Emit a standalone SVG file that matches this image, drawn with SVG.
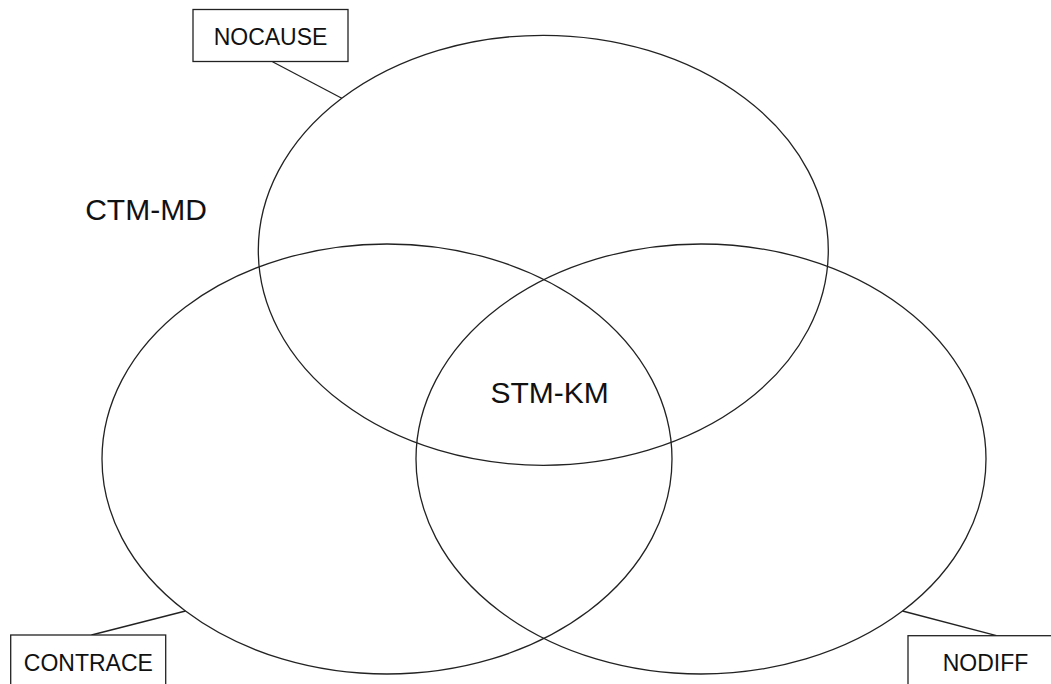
<svg xmlns="http://www.w3.org/2000/svg" width="1051" height="684" viewBox="0 0 1051 684">
  <style>
    .shape { fill: none; stroke: #222; stroke-width: 1.3; }
    .box { fill: #fff; stroke: #222; stroke-width: 1.3; }
    .lbl { font-family: "Liberation Sans", Arial, sans-serif; font-size: 23px; fill: #111; text-anchor: middle; }
    .big { font-family: "Liberation Sans", Arial, sans-serif; font-size: 30px; fill: #111; text-anchor: middle; }
    .conn { stroke: #222; stroke-width: 1.3; fill: none; }
  </style>
  <rect width="1051" height="684" fill="#fff"/>
  <g id="set-nocause">
    <ellipse class="shape" cx="543.3" cy="250.3" rx="285" ry="215"/>
  </g>
  <g id="set-contrace">
    <ellipse class="shape" cx="387" cy="459" rx="285" ry="215"/>
  </g>
  <g id="set-nodiff">
    <ellipse class="shape" cx="701" cy="459" rx="285" ry="215"/>
  </g>
  <g id="connectors">
    <line class="conn" x1="272.5" y1="61.7" x2="341.8" y2="98.3"/>
    <line class="conn" x1="91.5" y1="635" x2="185.5" y2="611"/>
    <line class="conn" x1="902.5" y1="611" x2="996.5" y2="635.7"/>
  </g>
  <g id="label-nocause">
    <rect class="box" x="193" y="9.5" width="155" height="52"/>
    <text class="lbl" x="270.5" y="44.5">NOCAUSE</text>
  </g>
  <g id="label-contrace">
    <rect class="box" x="10.7" y="635" width="155" height="52"/>
    <text class="lbl" x="88.3" y="670.5">CONTRACE</text>
  </g>
  <g id="label-nodiff">
    <rect class="box" x="908" y="635.7" width="155" height="52"/>
    <text class="lbl" x="985.5" y="670.5">NODIFF</text>
  </g>
  <g id="text-ctm-md">
    <text class="big" x="146" y="220">CTM-MD</text>
  </g>
  <g id="text-stm-km">
    <text class="big" x="549.6" y="403.3">STM-KM</text>
  </g>
</svg>
